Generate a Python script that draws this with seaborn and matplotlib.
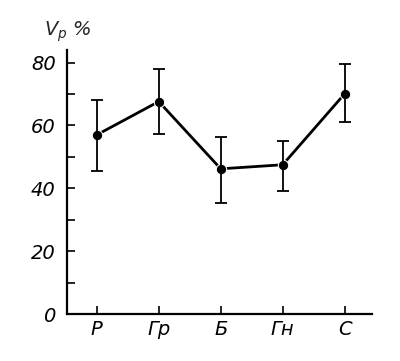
import matplotlib
matplotlib.use("Agg")
import matplotlib.pyplot as plt
import seaborn as sns
import pandas as pd

sns.set_style("white")
plt.rcParams['font.family'] = ['DejaVu Sans Condensed', 'Liberation Sans Narrow', 'DejaVu Sans']

groups = ["Р", "Гр", "Б", "Гн", "С"]
vp = [57.0, 67.6, 46.2, 47.5, 70.1]
vp_low = [45.6, 57.4, 35.4, 39.2, 61.2]
vp_high = [68.0, 78.0, 56.4, 55.1, 79.4]

df = pd.DataFrame({"group": groups, "vp": vp})

fig = plt.figure(figsize=(4, 3.61), dpi=100)
ax = fig.add_axes([0.1675, 0.13, 0.7625, 0.7315])

sns.lineplot(data=df, x="group", y="vp", color="black", linewidth=2.0,
             marker="o", markersize=7.5, ax=ax)
lo = [v - l for v, l in zip(vp, vp_low)]
hi = [h - v for v, h in zip(vp, vp_high)]
ax.errorbar(range(len(groups)), vp, yerr=[lo, hi], fmt="none", ecolor="black",
            elinewidth=1.3, capsize=4, capthick=1.3)

ax.set_xlim(-0.48, 4.44)
ax.set_ylim(0, 84)
ax.set_yticks([0, 20, 40, 60, 80])
ax.set_yticks([10, 30, 50, 70], minor=True)
ax.set_xticks(range(len(groups)))
ax.set_xticklabels(groups, style="italic")
for t in ax.get_yticklabels():
    t.set_style("italic")
ax.tick_params(axis="both", which="both", direction="in", length=6, width=1.2,
               labelsize=14, color="black", labelcolor="black",
               left=True, bottom=True)
ax.tick_params(axis="y", pad=8)
ax.tick_params(axis="x", pad=4)
for s in ["top", "right"]:
    ax.spines[s].set_visible(False)
for s in ["left", "bottom"]:
    ax.spines[s].set_color("black")
    ax.spines[s].set_linewidth(1.6)
ax.set_xlabel("")
ax.set_ylabel("")
fig.text(0.11, 0.9, "$V_р$ %", fontsize=14, style="italic", ha="left", va="baseline")

plt.savefig("out.png", dpi=100)
